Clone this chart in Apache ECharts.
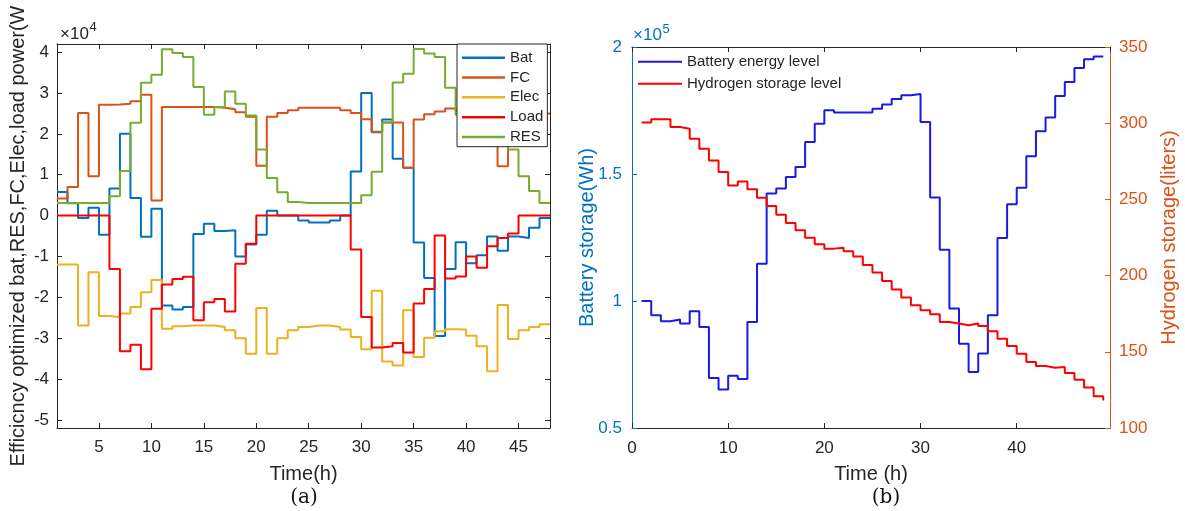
<!DOCTYPE html>
<html><head><meta charset="utf-8">
<script src="https://cdn.jsdelivr.net/npm/echarts@6/dist/echarts.min.js"></script>
<style>html,body{margin:0;padding:0;background:#fff}#c{width:1185px;height:511px}</style>
</head><body><div id="c"></div><script>
// ---------- data: panel (a), power in units of 10^4 W ----------
const hoursA = [1,2,3,4,5,6,7,8,9,10,11,12,13,14,15,16,17,18,19,20,21,22,23,24,25,26,27,28,29,30,31,32,33,34,35,36,37,38,39,40,41,42,43,44,45,46,47,48];
const batPower = [0.58,0.30,-0.06,0.19,-0.47,0.66,2.0,0.43,-0.52,0.17,-2.2,-2.3,-2.24,-0.45,-0.2,-0.38,-0.36,-1.0,-0.71,-0.47,0.12,0,0,-0.12,-0.17,-0.17,-0.12,0,1.08,3.0,2.04,2.35,1.39,1.17,-0.66,-1.53,-2.95,-1.31,-0.65,-1.17,-0.97,-0.51,-0.86,-0.51,-0.55,-0.3,-0.06,-0.06];
const fcPower = [0.42,0.70,2.51,0.96,2.71,2.72,2.74,2.80,2.96,0.37,2.66,2.66,2.66,2.66,2.66,2.64,2.60,2.53,2.42,1.22,2.42,2.51,2.58,2.64,2.64,2.64,2.64,2.58,2.51,2.36,2.05,2.28,2.28,1.17,2.35,2.48,2.55,2.62,2.56,2.55,2.51,2.45,1.21,2.45,2.52,2.55,2.5,2.5];
const elecPower = [-1.2,-1.2,-2.69,-1.39,-2.46,-2.49,-2.4,-2.24,-1.88,-1.58,-2.77,-2.71,-2.69,-2.69,-2.69,-2.73,-2.81,-3.0,-3.38,-2.26,-3.38,-3.0,-2.81,-2.73,-2.69,-2.69,-2.73,-2.79,-2.97,-3.27,-1.84,-3.57,-3.67,-2.32,-3.46,-2.99,-2.83,-2.78,-2.79,-2.94,-3.2,-3.81,-2.19,-3.02,-2.81,-2.73,-2.66,-2.66];
const loadPower = [0,0,0,0,0,-1.31,-3.32,-3.16,-3.76,-2.28,-1.69,-1.55,-1.5,-2.56,-2.12,-2.04,-2.35,-1.18,-0.69,0,0,0,0,0,0,0,0,0,-0.83,-2.48,-3.23,-3.2,-3.12,-3.35,-2.15,-1.8,-0.49,-1.54,-1.49,-1.0,-1.28,-0.75,-0.55,-0.44,0,0,0,0];
const resPower = [0.31,0.31,0.31,0.31,0.31,0.47,1.09,2.27,3.25,3.45,4.07,3.98,3.88,3.15,2.47,2.66,3.04,2.74,2.45,1.62,0.92,0.57,0.33,0.31,0.31,0.31,0.31,0.31,0.31,0.5,1.07,2.28,3.26,3.47,4.08,3.97,3.88,3.13,2.47,2.66,3.04,2.74,2.45,1.62,0.96,0.6,0.31,0.31];
const namesA = ['Bat','FC','Elec','Load','RES'];

// ---------- data: panel (b) ----------
const hoursB = [1,2,3,4,5,6,7,8,9,10,11,12,13,14,15,16,17,18,19,20,21,22,23,24,25,26,27,28,29,30,31,32,33,34,35,36,37,38,39,40,41,42,43,44,45,46,47,48,49];
// battery energy, units of 10^5 Wh
const batteryLevel = [1.0,0.944,0.92,0.927,0.911,0.96,0.898,0.697,0.652,0.706,0.693,0.917,1.147,1.423,1.443,1.488,1.528,1.626,1.698,1.751,1.742,1.742,1.742,1.742,1.757,1.774,1.795,1.81,1.815,1.705,1.407,1.202,0.97,0.832,0.72,0.793,0.944,1.248,1.381,1.446,1.57,1.668,1.722,1.807,1.862,1.917,1.952,1.963,1.963];
// hydrogen storage, liters
const hydrogenLevel = [300.4,302.6,302.6,297.5,296.4,289.8,283.3,275.6,267.9,259.2,261.8,256.6,251.1,245.6,240,234.5,229.7,224.9,220.5,217.7,218.3,216,212.5,207,202,196.5,190.8,185.6,180.5,177.2,174.6,169.6,168.5,167.4,168.5,167,163.5,158.6,153.8,148.8,143.3,140.7,139.6,140,136.1,131.7,126.5,120.8,118];
const namesB = ['Battery energy level','Hydrogen storage level'];

const FONT = '"Liberation Sans", Arial, Helvetica, sans-serif';
const INK = '#262626';
const BLUE_AX = '#0072BD';
const ORANGE_AX = '#D95319';
const colorsA = ['#0072BD','#D95319','#EDB120','#FF0000','#77AC30'];
const colorsB = ['#1a1ae0','#FF0000'];

function pairs(xs, ys){ return xs.map((x,i)=>[x, ys[i]]); }

function axisCommon(color, showLabels, labelMargin, showEnds){
  return {
    axisLine:{show:true, onZero:false, lineStyle:{color:color, width:1}},
    axisTick:{show:true, inside:true, length:5, lineStyle:{color:color, width:1}},
    axisLabel:{show:showLabels, color:color, fontSize:17, fontFamily:FONT, margin:labelMargin,
               showMinLabel:!!showEnds, showMaxLabel:!!showEnds},
    splitLine:{show:false},
    nameMoveOverlap:false
  };
}

const chart = echarts.init(document.getElementById('c'), null, {renderer:'canvas'});

const seriesA = [batPower, fcPower, elecPower, loadPower, resPower].map((ys, i) => ({
  name: namesA[i], type:'line', xAxisIndex:0, yAxisIndex:0, step:'end', symbol:'none',
  data: pairs(hoursA, ys), lineStyle:{color:colorsA[i], width:2}, itemStyle:{color:colorsA[i]},
  emphasis:{disabled:true}
}));

const rightX = axisCommon(INK, true, 12, false);
rightX.axisLabel.showMinLabel = true;

const option = {
  animation:false,
  backgroundColor:'#fff',
  grid:[
    {left:57, top:44, width:493, height:384, containLabel:false, outerBoundsMode:'none'},
    {left:632, top:47, width:478, height:381, containLabel:false, outerBoundsMode:'none'}
  ],
  xAxis:[
    Object.assign(axisCommon(INK, true, 11), {type:'value', gridIndex:0, position:'bottom', min:1, max:48, splitNumber:9, minInterval:5, maxInterval:5,
      name:'Time(h)', nameLocation:'middle', nameGap:46, nameTextStyle:{color:INK, fontSize:20, fontFamily:FONT, verticalAlign:'middle'}}),
    Object.assign(axisCommon(INK, false, 8), {type:'value', gridIndex:0, position:'top', min:1, max:48, splitNumber:9, minInterval:5, maxInterval:5}),
    Object.assign(rightX, {type:'value', gridIndex:1, position:'bottom', min:0, max:49.7, interval:10,
      name:'Time (h)', nameLocation:'middle', nameGap:46, nameTextStyle:{color:INK, fontSize:20, fontFamily:FONT, verticalAlign:'middle'}}),
    Object.assign(axisCommon(INK, false, 8), {type:'value', gridIndex:1, position:'top', min:0, max:49.7, interval:10})
  ],
  yAxis:[
    Object.assign(axisCommon(INK, true, 8), {type:'value', gridIndex:0, position:'left', min:-5.2, max:4.2, splitNumber:9, minInterval:1, maxInterval:1,
      name:'Efficicncy optimized bat,RES,FC,Elec,load power(W', nameLocation:'middle', nameGap:39, nameRotate:90,
      nameTextStyle:{color:INK, fontSize:20, fontFamily:FONT, verticalAlign:'middle'}}),
    Object.assign(axisCommon(INK, false, 8), {type:'value', gridIndex:0, position:'right', min:-5.2, max:4.2, splitNumber:9, minInterval:1, maxInterval:1}),
    Object.assign(axisCommon(BLUE_AX, true, 10, true), {type:'value', gridIndex:1, position:'left', min:0.5, max:2, interval:0.5,
      name:'Battery storage(Wh)', nameLocation:'middle', nameGap:45, nameRotate:90,
      nameTextStyle:{color:BLUE_AX, fontSize:20, fontFamily:FONT, verticalAlign:'middle'}}),
    Object.assign(axisCommon(ORANGE_AX, true, 9, true), {type:'value', gridIndex:1, position:'right', min:100, max:350, interval:50,
      name:'Hydrogen storage(liters)', nameLocation:'middle', nameGap:59, nameRotate:90,
      nameTextStyle:{color:ORANGE_AX, fontSize:20, fontFamily:FONT, verticalAlign:'middle'}})
  ],
  legend:[
    {data:namesA.map((n,i)=>({name:n, icon:'rect', itemStyle:{color:colorsA[i]}})),
     orient:'vertical', left:457, top:44, padding:[6,4,2,5], itemGap:4.3, itemWidth:43, itemHeight:2.5,
     borderColor:INK, borderWidth:1, backgroundColor:'#fff', selectedMode:false,
     textStyle:{color:INK, fontSize:15, fontFamily:FONT, lineHeight:15.5}},
    {data:namesB.map((n,i)=>({name:n, icon:'rect', itemStyle:{color:colorsB[i]}})),
     orient:'vertical', left:638, top:54, padding:0, itemGap:6.5, itemWidth:44, itemHeight:2, selectedMode:false,
     textStyle:{color:INK, fontSize:15, fontFamily:FONT, lineHeight:15.5}}
  ],
  series: seriesA.concat([
    {name:namesB[0], type:'line', xAxisIndex:2, yAxisIndex:2, step:'end', symbol:'none', data:pairs(hoursB, batteryLevel),
     lineStyle:{color:colorsB[0], width:2}, itemStyle:{color:colorsB[0]}, emphasis:{disabled:true}},
    {name:namesB[1], type:'line', xAxisIndex:2, yAxisIndex:3, step:'end', symbol:'none', data:pairs(hoursB, hydrogenLevel),
     lineStyle:{color:colorsB[1], width:2}, itemStyle:{color:colorsB[1]}, emphasis:{disabled:true}}
  ]),
  graphic:[
    {type:'text', x:60, y:34, style:{text:'×10', fill:INK, font:'17px ' + FONT, verticalAlign:'middle'}},
    {type:'text', x:89.5, y:27.5, style:{text:'4', fill:INK, font:'13px ' + FONT, verticalAlign:'middle'}},
    {type:'text', x:633, y:35.5, style:{text:'×10', fill:BLUE_AX, font:'17px ' + FONT, verticalAlign:'middle'}},
    {type:'text', x:662.5, y:29, style:{text:'5', fill:BLUE_AX, font:'13px ' + FONT, verticalAlign:'middle'}},
    {type:'text', x:304, y:498, style:{text:'(a)', fill:'#111', font:'20px "DejaVu Serif", serif', align:'center', verticalAlign:'middle'}},
    {type:'text', x:886, y:498, style:{text:'(b)', fill:'#111', font:'20px "DejaVu Serif", serif', align:'center', verticalAlign:'middle'}}
  ]
};
chart.setOption(option);
</script></body></html>
